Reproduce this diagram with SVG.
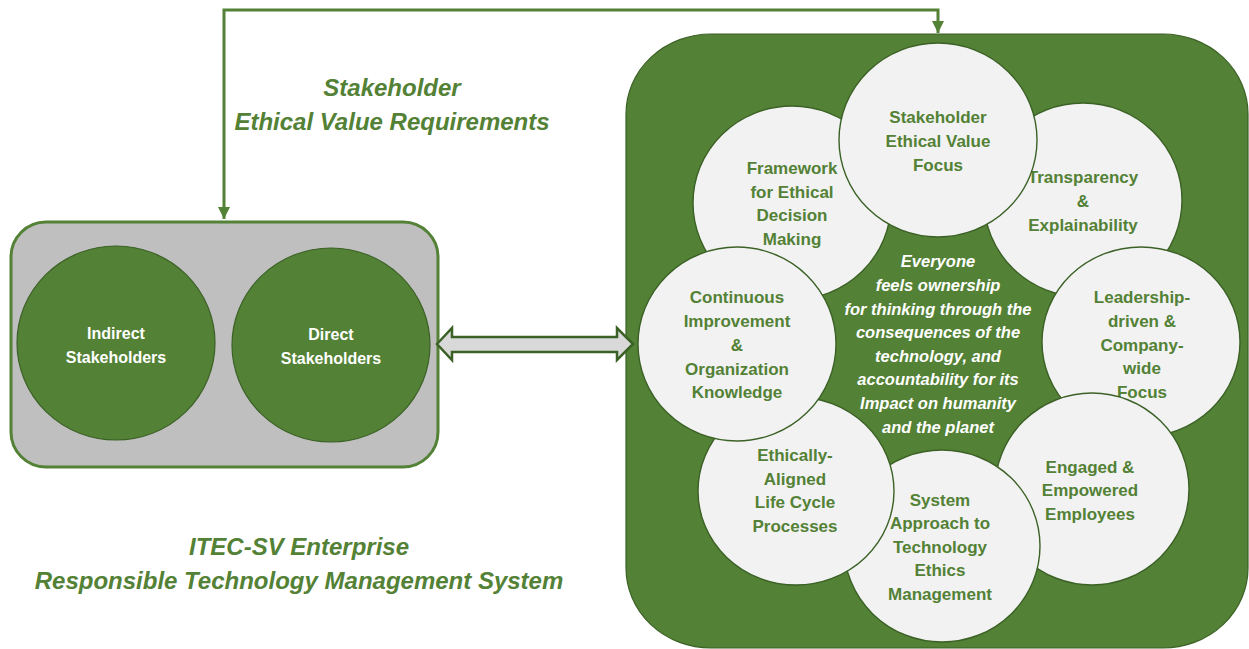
<svg xmlns="http://www.w3.org/2000/svg" width="1249" height="649" viewBox="0 0 1249 649">
<style>
.bg{fill:#ffffff}
.lbox{fill:#bfbfbf;stroke:#538135;stroke-width:3}
.gbox{fill:#538135;stroke:#3b6126;stroke-width:1.2}
.sh{fill:#538135;stroke:#3b6126;stroke-width:1.2}
.c{fill:#f2f2f2;stroke:#3b6126;stroke-width:1.4}
.wt{font-family:"Liberation Sans",Arial,sans-serif;font-weight:bold;font-size:16px;fill:#ffffff;text-anchor:middle}
.ct{font-family:"Liberation Sans",Arial,sans-serif;font-weight:bold;font-size:17px;fill:#538135;text-anchor:middle}
.mt{font-family:"Liberation Sans",Arial,sans-serif;font-weight:bold;font-style:italic;font-size:16.5px;fill:#ffffff;text-anchor:middle}
.tt{font-family:"Liberation Sans",Arial,sans-serif;font-weight:bold;font-style:italic;font-size:24px;fill:#538135;text-anchor:middle}
.conn{fill:none;stroke:#538135;stroke-width:3}
.dbl{fill:#d9d9d9;stroke:#3b6126;stroke-width:2.5;stroke-linejoin:miter}
</style>
<defs>
<marker id="ah" markerUnits="userSpaceOnUse" markerWidth="14" markerHeight="14" refX="12" refY="6" orient="auto-start-reverse" viewBox="0 0 14 12">
<path d="M0,0 L12,6 L0,12 Z" fill="#538135"/>
</marker>
</defs>
<rect class="bg" x="0" y="0" width="1249" height="649"/>

<g id="title-requirements">
<text class="tt" x="392" y="96">Stakeholder</text>
<text class="tt" x="392" y="130">Ethical Value Requirements</text>
</g>
<g id="title-system">
<text class="tt" x="299" y="555">ITEC-SV Enterprise</text>
<text class="tt" x="299" y="589">Responsible Technology Management System</text>
</g>

<g id="stakeholders">
<rect class="lbox" x="11" y="222" width="427" height="245" rx="35" ry="35"/>
<g id="indirect">
<ellipse class="sh" cx="116" cy="343" rx="99" ry="97"/>
<text class="wt" x="116" y="339">Indirect</text>
<text class="wt" x="116" y="363">Stakeholders</text>
</g>
<g id="direct">
<ellipse class="sh" cx="331" cy="345" rx="99" ry="97"/>
<text class="wt" x="331" y="340">Direct</text>
<text class="wt" x="331" y="364">Stakeholders</text>
</g>
</g>

<g id="enterprise">
<rect class="gbox" x="626" y="34" width="622" height="614" rx="85" ry="80"/>
<g id="framework">
<ellipse class="c" cx="792" cy="203" rx="99" ry="97"/>
<text class="ct" x="792" y="174">Framework</text>
<text class="ct" x="792" y="198">for Ethical</text>
<text class="ct" x="792" y="221">Decision</text>
<text class="ct" x="792" y="245">Making</text>
</g>
<g id="transparency">
<ellipse class="c" cx="1083" cy="200" rx="99" ry="97"/>
<text class="ct" x="1083" y="183">Transparency</text>
<text class="ct" x="1083" y="207">&amp;</text>
<text class="ct" x="1083" y="231">Explainability</text>
</g>
<g id="stakeholder-focus">
<ellipse class="c" cx="938" cy="140" rx="99" ry="97"/>
<text class="ct" x="938" y="123">Stakeholder</text>
<text class="ct" x="938" y="147">Ethical Value</text>
<text class="ct" x="938" y="171">Focus</text>
</g>
<g id="leadership">
<ellipse class="c" cx="1141" cy="342" rx="99" ry="95"/>
<text class="ct" x="1142" y="303">Leadership-</text>
<text class="ct" x="1142" y="327">driven &amp;</text>
<text class="ct" x="1142" y="351">Company-</text>
<text class="ct" x="1142" y="374">wide</text>
<text class="ct" x="1142" y="398">Focus</text>
</g>
<g id="engaged">
<ellipse class="c" cx="1092" cy="489" rx="97" ry="96"/>
<text class="ct" x="1090" y="473">Engaged &amp;</text>
<text class="ct" x="1090" y="496">Empowered</text>
<text class="ct" x="1090" y="520">Employees</text>
</g>
<g id="system">
<ellipse class="c" cx="942" cy="546" rx="98" ry="96"/>
<text class="ct" x="940" y="506">System</text>
<text class="ct" x="940" y="529">Approach to</text>
<text class="ct" x="940" y="553">Technology</text>
<text class="ct" x="940" y="576">Ethics</text>
<text class="ct" x="940" y="600">Management</text>
</g>
<g id="ethically">
<ellipse class="c" cx="796" cy="491" rx="98" ry="94"/>
<text class="ct" x="795" y="461">Ethically-</text>
<text class="ct" x="795" y="485">Aligned</text>
<text class="ct" x="795" y="508">Life Cycle</text>
<text class="ct" x="795" y="532">Processes</text>
</g>
<g id="continuous">
<ellipse class="c" cx="737" cy="344" rx="99" ry="97"/>
<text class="ct" x="737" y="303">Continuous</text>
<text class="ct" x="737" y="327">Improvement</text>
<text class="ct" x="737" y="351">&amp;</text>
<text class="ct" x="737" y="375">Organization</text>
<text class="ct" x="737" y="398">Knowledge</text>
</g>
<g id="ownership">
<text class="mt" x="938" y="267">Everyone</text>
<text class="mt" x="938" y="291">feels ownership</text>
<text class="mt" x="938" y="315">for thinking through the</text>
<text class="mt" x="938" y="338">consequences of the</text>
<text class="mt" x="938" y="362">technology, and</text>
<text class="mt" x="938" y="385">accountability for its</text>
<text class="mt" x="938" y="409">Impact on humanity</text>
<text class="mt" x="938" y="433">and the planet</text>
</g>
</g>

<g id="connectors">
<path class="conn" d="M224,219 V10 H938 V33" marker-start="url(#ah)" marker-end="url(#ah)"/>
<polygon class="dbl" points="437,344 452,328 452,337 617,337 617,328 633,344 617,360 617,352 452,352 452,360"/>
</g>
</svg>
